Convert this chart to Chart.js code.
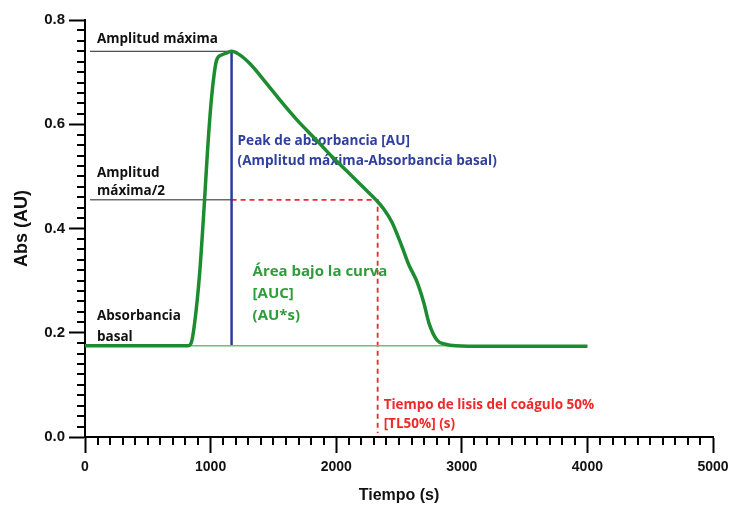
<!DOCTYPE html>
<html>
<head>
<meta charset="utf-8">
<script src="https://cdn.jsdelivr.net/npm/chart.js@4.4.1/dist/chart.umd.min.js"></script>
<style>
  html, body { margin: 0; padding: 0; background: #fff; }
  #wrap { width: 729px; height: 505px; }
</style>
</head>
<body>
<div id="wrap"><canvas id="absChart"></canvas></div>
<script>
// ================================
// DATA
// ================================
const timeS = [0, 400, 820, 845, 873, 913, 952, 976, 1008, 1048, 1087, 1130, 1167, 1220, 1310, 1440, 1571, 1700, 1841, 1970, 2103, 2220, 2317, 2380, 2444, 2524, 2579, 2643, 2698, 2738, 2802, 2870, 2952, 3200, 3600, 4000];
const absAU = [0.175, 0.175, 0.175, 0.18, 0.219, 0.315, 0.455, 0.551, 0.652, 0.723, 0.733, 0.737, 0.740, 0.735, 0.717, 0.680, 0.641, 0.605, 0.570, 0.537, 0.506, 0.478, 0.455, 0.437, 0.412, 0.365, 0.330, 0.298, 0.257, 0.219, 0.186, 0.178, 0.175, 0.174, 0.174, 0.174];

const baselineT = [0, 4000];
const baselineAbs = [0.175, 0.175];

// reference values
const peakT = 1167;
const peakAbs = 0.740;
const halfAbs = 0.455;
const tl50T = 2330;
const guideStartT = 40;

const xTicks = [0, 1000, 2000, 3000, 4000, 5000];
const yTicks = [0.0, 0.2, 0.4, 0.6, 0.8];

// ================================
// PLUGINS
// ================================
const minorTicks = {
  id: "minorTicks",
  afterDraw(chart) {
    const { ctx, chartArea, scales } = chart;
    ctx.save();
    ctx.strokeStyle = "#000";
    ctx.lineWidth = 2;
    for (let v = 100; v < 5000; v += 100) {
      if (v % 1000 === 0) continue;
      const px = Math.round(scales.x.getPixelForValue(v));
      ctx.beginPath();
      ctx.moveTo(px, chartArea.bottom);
      ctx.lineTo(px, chartArea.bottom + 8);
      ctx.stroke();
    }
    for (let i = 1; i < 40; i++) {
      if (i % 10 === 0) continue;
      const py = Math.round(scales.y.getPixelForValue(i * 0.02));
      ctx.beginPath();
      ctx.moveTo(chartArea.left, py);
      ctx.lineTo(chartArea.left - 8, py);
      ctx.stroke();
    }
    ctx.restore();
  }
};

const guides = {
  id: "guides",
  beforeDatasetsDraw(chart) {
    const { ctx, scales } = chart;
    const x = scales.x, y = scales.y;
    const xs = x.getPixelForValue(guideStartT);
    const xPeak = x.getPixelForValue(peakT);
    const xTl = x.getPixelForValue(tl50T);
    const yPeak = y.getPixelForValue(peakAbs);
    const yHalf = y.getPixelForValue(halfAbs);
    const yBase = y.getPixelForValue(baselineAbs[0]);
    const yZero = y.getPixelForValue(0);

    ctx.save();
    // black guides
    ctx.strokeStyle = "#222";
    ctx.lineWidth = 1;
    ctx.beginPath();
    ctx.moveTo(xs, yPeak); ctx.lineTo(xPeak, yPeak);
    ctx.moveTo(xs, yHalf); ctx.lineTo(xPeak, yHalf);
    ctx.stroke();

    // red dashed
    ctx.strokeStyle = "#f02828";
    ctx.lineWidth = 1.8;
    ctx.setLineDash([5, 4]);
    ctx.beginPath();
    ctx.moveTo(xPeak, yHalf); ctx.lineTo(xTl, yHalf);
    ctx.lineTo(xTl, yZero - 4);
    ctx.stroke();
    ctx.setLineDash([]);

    // blue peak line
    ctx.strokeStyle = "#2b3a9e";
    ctx.lineWidth = 2.5;
    ctx.beginPath();
    ctx.moveTo(xPeak, yPeak); ctx.lineTo(xPeak, yBase);
    ctx.stroke();

    // labels
    ctx.textBaseline = "middle";
    ctx.textAlign = "left";
    ctx.fillStyle = "#111";
    ctx.font = "normal 700 13.5px 'Open Sans'";
    ctx.fillText("Amplitud máxima", 97, yPeak - 12);
    ctx.fillText("Amplitud", 97, yHalf - 27);
    ctx.fillText("máxima/2", 97, yHalf - 9);
    ctx.fillText("Absorbancia", 97, yBase - 30);
    ctx.fillText("basal", 97, yBase - 9);

    ctx.fillStyle = "#2e3f9e";
    ctx.font = "normal 700 13.6px 'Open Sans'";
    ctx.fillText("Peak de absorbancia [AU]", xPeak + 6, 141);
    ctx.fillText("(Amplitud máxima-Absorbancia basal)", xPeak + 6, 161);

    ctx.fillStyle = "#2f9c3c";
    ctx.font = "normal 700 15px 'Open Sans'";
    ctx.fillText("Área bajo la curva", xPeak + 21, 272);
    ctx.fillText("[AUC]", xPeak + 21, 294);
    ctx.fillText("(AU*s)", xPeak + 21, 316);

    ctx.fillStyle = "#f02828";
    ctx.font = "normal 700 13.5px 'Open Sans'";
    ctx.fillText("Tiempo de lisis del coágulo 50%", xTl + 6, 405);
    ctx.fillText("[TL50%] (s)", xTl + 6, 424);
    ctx.restore();
  }
};

// ================================
// CHART
// ================================
const ctx = document.getElementById("absChart").getContext("2d");

new Chart(ctx, {
  type: "line",
  data: {
    datasets: [
      {
        data: timeS.map((t, i) => ({ x: t, y: absAU[i] })),
        borderColor: "#1d8c30",
        borderWidth: 3.5,
        pointRadius: 0,
        cubicInterpolationMode: "monotone",
        fill: false
      },
      {
        data: baselineT.map((t, i) => ({ x: t, y: baselineAbs[i] })),
        borderColor: "#6cc070",
        borderWidth: 1.5,
        pointRadius: 0,
        fill: false
      }
    ]
  },
  options: {
    responsive: true,
    maintainAspectRatio: false,
    animation: false,
    layout: { padding: { top: 20, right: 16, left: 0, bottom: 0 } },
    plugins: {
      legend: { display: false },
      tooltip: { enabled: false }
    },
    scales: {
      x: {
        type: "linear",
        min: 0,
        max: 5000,
        afterFit(scale) {
          scale.height = 68;
          scale.paddingRight = 0;
        },
        afterBuildTicks(scale) { scale.ticks = xTicks.map(v => ({ value: v })); },
        ticks: {
          color: "#111",
          padding: 6,
          maxRotation: 0,
          font: { family: "Liberation Sans", size: 14, weight: "bold" },
          callback: v => String(v)
        },
        grid: { drawOnChartArea: false, tickLength: 16, tickWidth: 2, tickColor: "#000" },
        border: { color: "#000", width: 2 },
        title: {
          display: true,
          text: "Tiempo (s)",
          color: "#111",
          padding: { top: 0, bottom: 0 },
          font: { family: "Liberation Sans", size: 16, weight: "bold" }
        }
      },
      y: {
        min: 0,
        max: 0.8,
        afterFit(scale) { scale.width = 85; },
        afterBuildTicks(scale) { scale.ticks = yTicks.map(v => ({ value: v })); },
        ticks: {
          color: "#111",
          padding: 4,
          font: { family: "Liberation Sans", size: 15, weight: "bold" },
          callback: v => v.toFixed(1)
        },
        grid: { drawOnChartArea: false, tickLength: 16, tickWidth: 2, tickColor: "#000" },
        border: { color: "#000", width: 2 },
        title: {
          display: true,
          text: "Abs (AU)",
          color: "#111",
          padding: { top: 11, bottom: 0 },
          font: { family: "Liberation Sans", size: 18, weight: "bold" }
        }
      }
    }
  },
  plugins: [guides, minorTicks]
});
</script>
</body>
</html>
